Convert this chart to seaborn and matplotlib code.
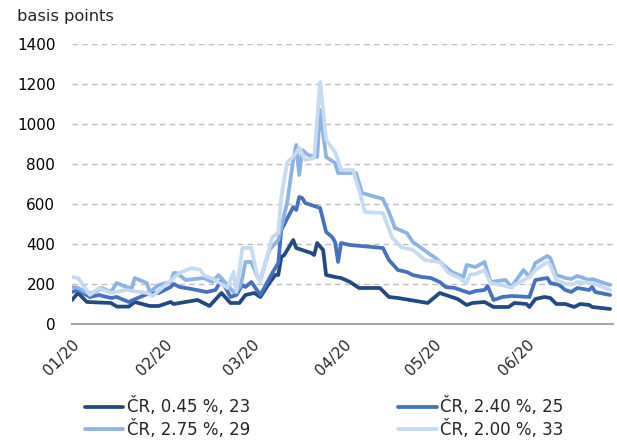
import pandas as pd
import numpy as np
import seaborn as sns
import matplotlib.pyplot as plt
import matplotlib.dates as mdates

# series: ČR, 0.45 %, 23
d_045 = ['01-01','01-03','01-06','01-14','01-16','01-20','01-22','01-27','01-30','02-03','02-04','02-06',
         '02-12','02-16','02-20','02-23','02-26','02-28','03-02','03-04','03-07','03-09','03-10','03-11',
         '03-12','03-15','03-16','03-18','03-21','03-22','03-23','03-25','03-26','03-29','03-31','04-03',
         '04-06','04-13','04-16','04-19','04-23','04-29','05-03','05-06','05-09','05-12','05-14','05-18',
         '05-21','05-26','05-28','06-01','06-02','06-04','06-07','06-09','06-11','06-14','06-17','06-19',
         '06-22','06-23','06-29']
v_045 = [120,155,110,105,87,87,110,90,90,110,100,105,
         120,90,155,105,105,145,155,135,205,245,245,335,
         345,420,380,370,355,345,405,370,245,235,230,210,
         180,180,135,130,120,105,155,140,125,95,105,110,
         85,85,105,100,85,125,135,130,100,100,85,100,
         95,85,75]

# series: ČR, 2.40 %, 25
d_240 = ['01-01','01-03','01-07','01-10','01-14','01-16','01-20','01-23','01-27','01-30','02-03','02-04',
         '02-06','02-10','02-15','02-18','02-20','02-23','02-25','02-27','02-28','03-01','03-04','03-08',
         '03-10','03-11','03-15','03-16','03-17','03-18','03-19','03-23','03-24','03-26','03-28','03-29',
         '03-30','03-31','04-03','04-14','04-16','04-19','04-22','04-24','04-27','04-30','05-03','05-05',
         '05-08','05-12','05-13','05-15','05-18','05-19','05-21','05-24','05-27','06-02','06-04','06-08',
         '06-09','06-12','06-14','06-16','06-18','06-22','06-23','06-24','06-29']
v_240 = [160,170,135,145,130,135,110,130,155,155,185,200,
         185,175,160,170,220,135,145,195,185,210,145,255,
         305,470,585,570,635,630,605,585,580,460,435,410,
         310,405,395,380,320,270,260,245,235,230,210,185,
         180,160,155,165,170,190,120,135,140,135,220,230,
         205,195,170,160,180,170,185,160,145]

# series: ČR, 2.75 %, 29
d_275 = ['01-01','01-03','01-06','01-08','01-11','01-14','01-16','01-19','01-21','01-22','01-26','01-27',
         '01-30','02-03','02-04','02-05','02-08','02-14','02-17','02-19','02-22','02-24','02-26','02-27',
         '02-28','03-01','03-03','03-04','03-07','03-10','03-13','03-15','03-16','03-17','03-18','03-20',
         '03-23','03-24','03-26','03-29','03-30','04-05','04-07','04-14','04-16','04-18','04-22','04-24',
         '05-02','05-05','05-07','05-11','05-12','05-15','05-18','05-20','05-25','05-27','05-31','06-02',
         '06-04','06-08','06-09','06-11','06-14','06-16','06-18','06-22','06-23','06-29']
v_275 = [185,180,155,155,180,160,205,185,180,230,205,160,
         195,210,255,255,220,230,210,245,195,160,180,230,
         310,310,235,220,370,420,610,820,895,745,870,845,
         835,1070,835,805,755,755,655,625,560,480,455,410,
         325,285,260,235,295,285,310,210,220,185,270,235,
         305,340,330,245,230,225,240,220,225,195]

# series: ČR, 2.00 %, 33
d_200 = ['01-01','01-03','01-07','01-10','01-14','01-19','01-26','01-28','02-02','02-06','02-10','02-13',
         '02-14','02-18','02-22','02-24','02-25','02-27','03-01','03-03','03-04','03-08','03-10','03-11',
         '03-13','03-15','03-17','03-19','03-22','03-24','03-26','03-29','03-30','03-31','04-04','04-06',
         '04-08','04-14','04-17','04-20','04-24','04-28','05-03','05-06','05-09','05-12','05-13','05-15',
         '05-18','05-20','05-25','05-27','05-28','06-02','06-04','06-08','06-09','06-11','06-14','06-17',
         '06-18','06-23','06-29']
v_200 = [235,230,145,180,155,170,155,140,205,255,280,270,
         245,220,180,260,160,380,380,235,210,435,455,635,
         810,835,880,820,830,1210,920,860,820,770,770,670,
         560,555,435,385,370,320,310,255,235,205,245,250,
         270,205,190,180,195,235,270,310,295,220,200,200,
         210,205,170]

names = ['ČR, 0.45 %, 23', 'ČR, 2.40 %, 25', 'ČR, 2.75 %, 29', 'ČR, 2.00 %, 33']
colors = ['#224A7F', '#4571BE', '#8DB3E2', '#C6DAF2']
xticks = ['2020-01-01', '2020-02-01', '2020-03-01', '2020-04-01', '2020-05-01', '2020-06-01']

frames = []
for name, d, v in zip(names, [d_045, d_240, d_275, d_200], [v_045, v_240, v_275, v_200]):
    frames.append(pd.DataFrame({'date': pd.to_datetime(['2020-' + s for s in d]), 'bp': v, 'series': name}))
df = pd.concat(frames, ignore_index=True)

sns.set_style('white')
plt.rcParams['font.family'] = ['DejaVu Sans']

fig = plt.figure(figsize=(6.17, 4.44), dpi=100)
ax = fig.add_axes([0.1167, 0.2703, 0.877, 0.6306])

pal = dict(zip(names, colors))
for z, name in enumerate(names):
    sub = df[df['series'] == name]
    sns.lineplot(data=sub, x='date', y='bp', color=pal[name], linewidth=2.7, ax=ax,
                 label=name, zorder=3 + z, solid_joinstyle='round')

ax.set_ylim(0, 1400)
ax.set_yticks(range(0, 1401, 200))
ax.set_xlim(pd.Timestamp('2020-01-01'), pd.Timestamp('2020-06-30'))
ax.set_xticks(pd.to_datetime(xticks))
ax.xaxis.set_major_formatter(mdates.DateFormatter('%m/%y'))
ax.set_xlabel('')
ax.set_ylabel('')

for y in range(200, 1401, 200):
    ax.axhline(y, color='#BFBFBF', linestyle=(0, (4, 3)), linewidth=1, zorder=1)

for s in ['top', 'right', 'left']:
    ax.spines[s].set_visible(False)
ax.spines['bottom'].set_color('#A6A6A6')
ax.spines['bottom'].set_linewidth(1.5)
ax.tick_params(axis='y', length=0, labelsize=11, pad=12, colors='#000000')
ax.tick_params(axis='x', length=5, width=1.2, color='#A6A6A6', direction='out', labelsize=11, pad=4)
plt.setp(ax.get_xticklabels(), rotation=45, ha='right', rotation_mode='anchor')

fig.text(0.027, 0.962, 'basis points', fontsize=11.7, va='center', ha='left')

handles, labels = ax.get_legend_handles_labels()
hmap = dict(zip(labels, handles))
ax.get_legend().remove()
order = ['ČR, 0.45 %, 23', 'ČR, 2.75 %, 29', 'ČR, 2.40 %, 25', 'ČR, 2.00 %, 33']
fig.legend([hmap[n] for n in order], order, loc='lower left', bbox_to_anchor=(0.138, 0.012),
           ncol=2, frameon=False, fontsize=12, handlelength=2.3, handletextpad=0.2,
           columnspacing=8.9, labelspacing=0.2, borderpad=0, borderaxespad=0)

fig.savefig('out.png', dpi=100)
